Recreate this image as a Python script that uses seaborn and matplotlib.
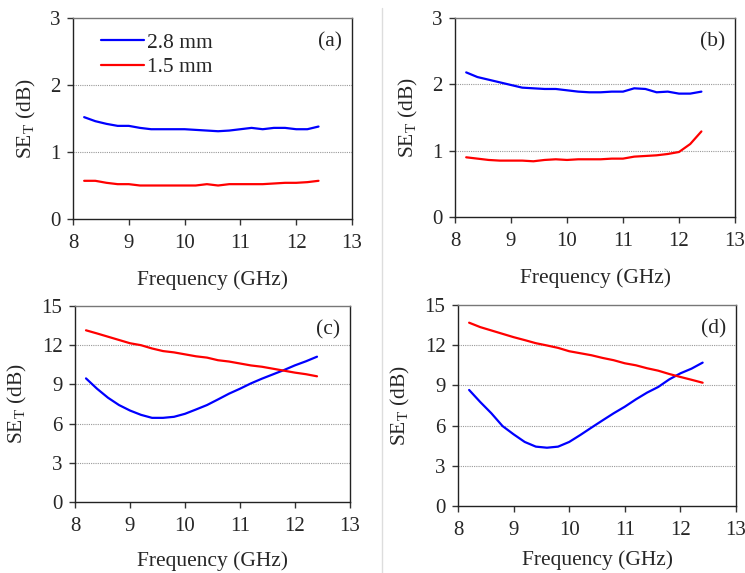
import numpy as np
import pandas as pd
import matplotlib
matplotlib.use("Agg")
import matplotlib.pyplot as plt
import seaborn as sns
from matplotlib.lines import Line2D

freq = [8.2, 8.4, 8.6, 8.8, 9.0, 9.2, 9.4, 9.6, 9.8, 10.0, 10.2,
        10.4, 10.6, 10.8, 11.0, 11.2, 11.4, 11.6, 11.8, 12.0, 12.2, 12.4]

a_28 = [1.52, 1.46, 1.42, 1.39, 1.39, 1.36, 1.34, 1.34, 1.34, 1.34, 1.33,
        1.32, 1.31, 1.32, 1.34, 1.36, 1.34, 1.36, 1.36, 1.34, 1.34, 1.38]
a_15 = [0.57, 0.57, 0.54, 0.52, 0.52, 0.50, 0.50, 0.50, 0.50, 0.50, 0.50,
        0.52, 0.50, 0.52, 0.52, 0.52, 0.52, 0.53, 0.54, 0.54, 0.55, 0.57]

b_28 = [2.18, 2.11, 2.07, 2.03, 1.99, 1.95, 1.94, 1.93, 1.93, 1.91, 1.89,
        1.88, 1.88, 1.89, 1.89, 1.94, 1.93, 1.88, 1.89, 1.86, 1.86, 1.89]
b_15 = [0.90, 0.88, 0.86, 0.85, 0.85, 0.85, 0.84, 0.86, 0.87, 0.86, 0.87,
        0.87, 0.87, 0.88, 0.88, 0.91, 0.92, 0.93, 0.95, 0.98, 1.10, 1.29]

c_28 = [9.46, 8.67, 7.98, 7.42, 7.00, 6.67, 6.44, 6.44, 6.52, 6.75, 7.08,
        7.42, 7.85, 8.29, 8.67, 9.08, 9.44, 9.77, 10.10, 10.46, 10.77, 11.12]
c_15 = [13.14, 12.90, 12.65, 12.40, 12.15, 12.00, 11.75, 11.55, 11.45, 11.30, 11.15,
        11.05, 10.85, 10.75, 10.60, 10.45, 10.35, 10.20, 10.05, 9.90, 9.78, 9.62]

d_28 = [8.66, 7.76, 6.92, 5.97, 5.35, 4.78, 4.43, 4.35, 4.43, 4.78, 5.30,
        5.85, 6.39, 6.92, 7.41, 7.96, 8.46, 8.88, 9.45, 9.90, 10.25, 10.70]
d_15 = [13.68, 13.35, 13.10, 12.85, 12.60, 12.38, 12.15, 11.98, 11.80, 11.55, 11.40,
        11.25, 11.05, 10.88, 10.65, 10.50, 10.28, 10.10, 9.85, 9.63, 9.42, 9.20]

series_labels = ["2.8 mm", "1.5 mm"]
panel_labels = ["(a)", "(b)", "(c)", "(d)"]
x_ticks = [8, 9, 10, 11, 12, 13]
y_ticks_top = [0, 1, 2, 3]
y_ticks_bottom = [0, 3, 6, 9, 12, 15]

sns.set_theme(style="ticks")
plt.rcParams["font.family"] = ["Liberation Serif", "DejaVu Serif"]
plt.rcParams["mathtext.fontset"] = "custom"
plt.rcParams["mathtext.rm"] = "Liberation Serif"

W, H = 745, 573
fig = plt.figure(figsize=(W / 100, H / 100), dpi=100)

def px_axes(l, t, r, b):
    return fig.add_axes([l / W, 1 - b / H, (r - l) / W, (b - t) / H])

boxes = [(73, 18, 352, 219), (455, 18, 735, 217),
         (75, 306, 350, 502), (458, 305, 736, 506)]
xlabel_pads = [12, 12, 11, 7]
data = [(a_28, a_15), (b_28, b_15), (c_28, c_15), (d_28, d_15)]
palette = {"2.8 mm": "#0000FF", "1.5 mm": "#FF0000"}

# divider line
fig.add_artist(Line2D([382 / W, 382 / W], [0, 1 - 8 / H], color="#dddddd", lw=1))

for i, (box, (s28, s15)) in enumerate(zip(boxes, data)):
    ax = px_axes(*box)
    df = pd.DataFrame({
        "Frequency": freq * 2,
        "SE": s28 + s15,
        "Sample": [series_labels[0]] * len(freq) + [series_labels[1]] * len(freq),
    })
    sns.lineplot(data=df, x="Frequency", y="SE", hue="Sample", palette=palette,
                 hue_order=series_labels, lw=1.6, ax=ax, legend=(i == 0))
    ax.set_xlim(8, 13)
    ax.set_xticks(x_ticks)
    if i < 2:
        ax.set_ylim(0, 3)
        ax.set_yticks(y_ticks_top)
    else:
        ax.set_ylim(0, 15)
        ax.set_yticks(y_ticks_bottom)
    for yv in ax.get_yticks()[1:-1]:
        ax.axhline(yv, color="#999999", lw=0.8, ls=(0, (1, 1)), zorder=0)
    ax.set_xlabel("Frequency (GHz)", fontsize=15.5, labelpad=xlabel_pads[i])
    ax.set_ylabel(r"SE$_\mathregular{T}$ (dB)", fontsize=15.5, labelpad=9)
    ax.tick_params(axis="x", pad=7)
    ax.tick_params(axis="y", pad=5)
    ax.tick_params(axis="both", labelsize=15, length=4, width=1,
                   direction="out", color="#333333", bottom=True, left=True)
    for side in ["left", "bottom", "right"]:
        ax.spines[side].set_visible(True)
        ax.spines[side].set_color("#222222")
        ax.spines[side].set_linewidth(1)
    ax.spines["top"].set_visible(True)
    ax.spines["top"].set_color("#777777")
    ax.spines["top"].set_linewidth(1)
    ax.text(0.92, 0.88, panel_labels[i], transform=ax.transAxes,
            ha="center", va="center", fontsize=15.5)
    if i == 0:
        leg = ax.legend(loc="upper left", bbox_to_anchor=(0.07, 0.97), frameon=False,
                        fontsize=15.5, handlelength=2.0, handletextpad=0.15,
                        labelspacing=0.2, borderaxespad=0)
        for ln in leg.get_lines():
            ln.set_linewidth(1.6)

fig.savefig("out.png", dpi=100)
